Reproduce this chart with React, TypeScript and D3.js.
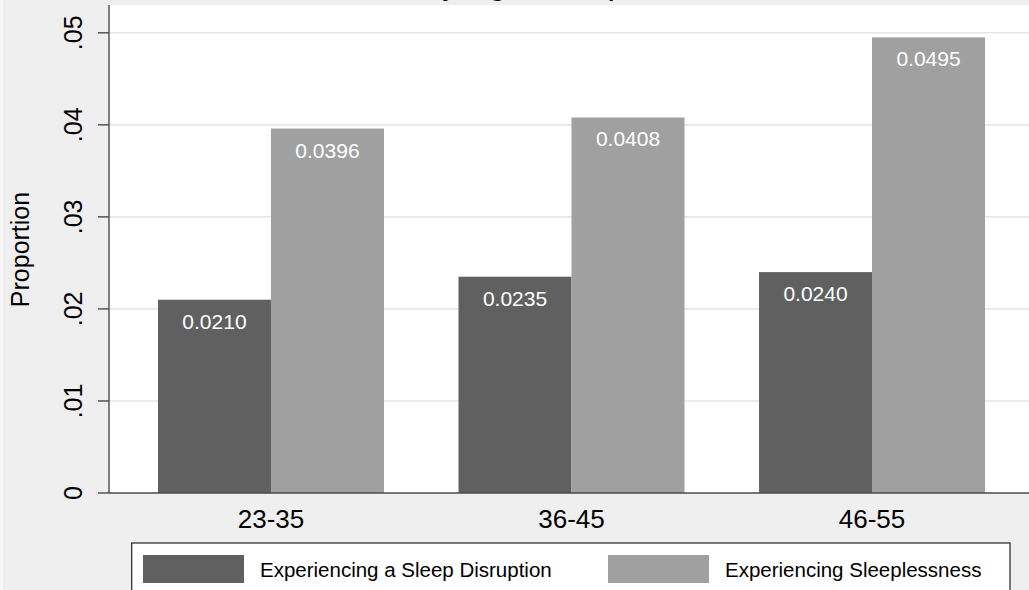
import React from "react";
import * as d3 from "d3";

const categories = ["23-35", "36-45", "46-55"];
const series = ["Experiencing a Sleep Disruption", "Experiencing Sleeplessness"];
const disruption = [0.021, 0.0235, 0.024];
const sleeplessness = [0.0396, 0.0408, 0.0495];
const yTicks = [0, 0.01, 0.02, 0.03, 0.04, 0.05];
const yTickLabels = ["0", ".01", ".02", ".03", ".04", ".05"];
const colors = ["#606060", "#a0a0a0"];

const W = 1029;
const H = 590;
const FONT = "'Liberation Sans', Arial, Helvetica, sans-serif";

export default function App() {
  const plotLeft = 109;
  const plotRight = 1034;
  const plotTop = 5;
  const plotBottom = 493;

  const y = d3.scaleLinear().domain([0, 0.05]).range([plotBottom, 32.8]);
  const x = d3
    .scaleBand<string>()
    .domain(categories)
    .range([plotLeft, plotRight])
    .paddingInner(0.248)
    .paddingOuter(0.163);
  const xs = d3.scaleBand<string>().domain(series).range([0, x.bandwidth()]).padding(0);

  const values = [disruption, sleeplessness];
  const fmt = d3.format(".4f");

  return (
    <svg
      width={W}
      height={H}
      style={{ position: "absolute", left: 0, top: 0, display: "block" }}
      fontFamily={FONT}
    >
      <rect x={0} y={0} width={W} height={H} fill="#f7f7f7" />
      <rect x={3} y={0} width={W - 3} height={H} fill="#efefef" />
      {/* title (cropped at top) */}
      <text x={424} y={-6} fontSize={33} fill="#000">
        by Age Group
      </text>
      {/* plot region */}
      <rect x={plotLeft} y={plotTop} width={plotRight - plotLeft} height={plotBottom - plotTop} fill="#ffffff" />
      {/* gridlines */}
      {yTicks.slice(1).map((t) => (
        <line key={t} x1={plotLeft} x2={plotRight} y1={y(t)} y2={y(t)} stroke="#e6e6e6" strokeWidth={1.6} />
      ))}
      {/* bars */}
      {categories.map((c, i) => (
        <g key={c} transform={`translate(${x(c)},0)`}>
          {series.map((s, j) => {
            const v = values[j][i];
            const bx = xs(s)!;
            return (
              <g key={s}>
                <rect x={bx} y={y(v)} width={xs.bandwidth()} height={y(0) - y(v)} fill={colors[j]} />
                <text
                  x={bx + xs.bandwidth() / 2}
                  y={y(v) + 29}
                  textAnchor="middle"
                  fontSize={21}
                  fill="#ffffff"
                >
                  {fmt(v)}
                </text>
              </g>
            );
          })}
        </g>
      ))}
      {/* axes */}
      <line x1={plotLeft} x2={plotLeft} y1={plotTop} y2={plotBottom} stroke="#4a4a4a" strokeWidth={1.4} />
      <line x1={plotLeft} x2={plotRight} y1={plotBottom} y2={plotBottom} stroke="#4a4a4a" strokeWidth={1.4} />
      {yTicks.map((t, i) => (
        <g key={t}>
          <line x1={98} x2={plotLeft} y1={y(t)} y2={y(t)} stroke="#4a4a4a" strokeWidth={1.4} />
          <text
            transform={`translate(82,${y(t)}) rotate(-90)`}
            textAnchor="middle"
            fontSize={25}
            fill="#000"
          >
            {yTickLabels[i]}
          </text>
        </g>
      ))}
      <text
        transform={`translate(28.5,${(plotTop + plotBottom) / 2 + 0.5}) rotate(-90)`}
        textAnchor="middle"
        fontSize={25}
        fill="#000"
      >
        Proportion
      </text>
      {categories.map((c) => (
        <text key={c} x={x(c)! + x.bandwidth() / 2} y={528} textAnchor="middle" fontSize={26} fill="#000">
          {c}
        </text>
      ))}
      {/* legend */}
      <rect x={131.7} y={543} width={1010 - 131.7} height={60} fill="#ffffff" stroke="#333" strokeWidth={1.3} />
      <rect x={143} y={555} width={101} height={28} fill={colors[0]} />
      <text x={260} y={577} fontSize={20.5} fill="#000">
        {series[0]}
      </text>
      <rect x={608} y={555} width={101} height={28} fill={colors[1]} />
      <text x={725} y={577} fontSize={20.5} fill="#000">
        {series[1]}
      </text>
    </svg>
  );
}
